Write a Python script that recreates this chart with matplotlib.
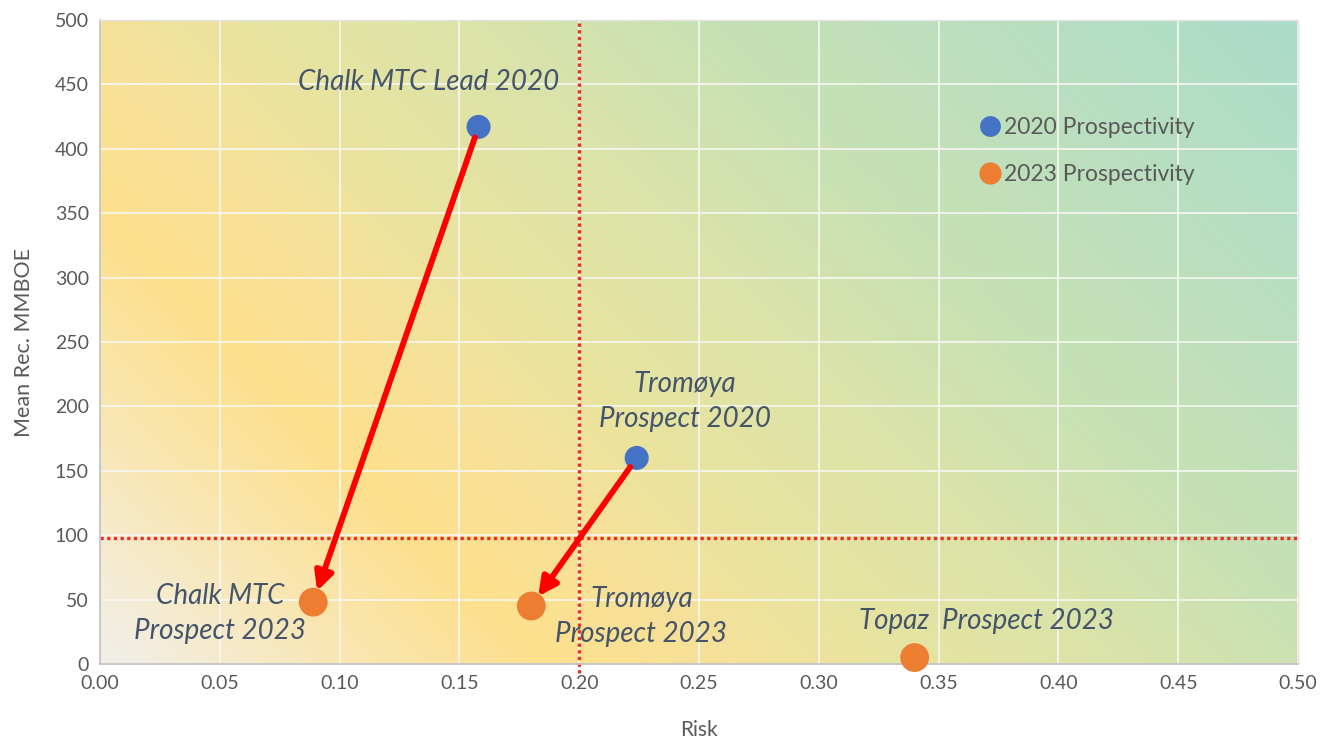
import numpy as np
import matplotlib
matplotlib.use("Agg")
import matplotlib.pyplot as plt
from matplotlib.colors import LinearSegmentedColormap
from matplotlib.lines import Line2D

plt.rcParams['font.family'] = ['Lato', 'DejaVu Sans']

# Prospect data: risk (x) and mean recoverable volume in MMBOE (y)
names_2020 = ["Chalk MTC Lead 2020", "Tromøya\nProspect 2020"]
risk_2020 = [0.158, 0.224]
mmboe_2020 = [417, 160]

names_2023 = ["Chalk MTC\nProspect 2023", "Tromøya\nProspect 2023", "Topaz  Prospect 2023"]
risk_2023 = [0.089, 0.180, 0.340]
mmboe_2023 = [48, 45, 5]

# Label anchor points (data coords) for each prospect name
label_x_2020 = [0.137, 0.244]
label_y_2020 = [452, 204]
label_x_2023 = [0.050, 0.226, 0.370]
label_y_2023 = [39, 37, 33]

# Re-evaluation arrows: index in 2020 list -> index in 2023 list
moves = [(0, 0), (1, 1)]

# Cut-off lines
risk_cutoff = 0.20
volume_cutoff = 98

x_ticks = [0.00, 0.05, 0.10, 0.15, 0.20, 0.25, 0.30, 0.35, 0.40, 0.45, 0.50]
y_ticks = [0, 50, 100, 150, 200, 250, 300, 350, 400, 450, 500]

fig = plt.figure(figsize=(13.22, 7.40), dpi=100)
ax = fig.add_axes([100 / 1322, 1 - 664 / 740, 1198 / 1322, 644 / 740])
ax.set_xlim(0, 0.5)
ax.set_ylim(0, 500)

# Diagonal background gradient: pale beige -> yellow -> green -> teal
W, H = 1198, 644
u = np.linspace(0, 1, 600)[None, :]
v = np.linspace(0, 1, 330)[:, None]
t = (u * W + v * H) / (W + H)
cmap = LinearSegmentedColormap.from_list(
    "bg",
    [(0.0, "#F1EFEA"), (0.12, "#F8E7B8"), (0.24, "#FDE08D"), (0.34, "#F6E199"),
     (0.44, "#E6E4A1"), (0.56, "#DAE3AA"), (0.67, "#C8E1B4"), (1.0, "#ACDCCB")])
ax.imshow(cmap(t), extent=(0, 0.5, 0, 500), origin="lower", aspect="auto",
          zorder=0, interpolation="bilinear")

ax.set_axisbelow(True)
ax.grid(True, color="#F7F7F2", lw=1.2)
ax.set_xticks(x_ticks)
ax.set_yticks(y_ticks)
ax.set_xticklabels([f"{v:.2f}" for v in x_ticks])
ax.set_yticklabels([str(v) for v in y_ticks])
ax.tick_params(length=0, labelsize=14, colors="#595959", pad=8)

for s in ["left", "bottom"]:
    ax.spines[s].set_color("#BFBFBF")
    ax.spines[s].set_linewidth(1.2)
for s in ["top", "right"]:
    ax.spines[s].set_color("#E4E4E4")
    ax.spines[s].set_linewidth(1.0)

ax.set_xlabel("Risk", fontsize=15, color="#595959", labelpad=20)
ax.set_ylabel("Mean Rec. MMBOE", fontsize=15.5, color="#595959", labelpad=15)

# Cut-off lines
red_dot = "#E8302A"
ax.axvline(risk_cutoff, ymin=-0.014, ymax=1, color=red_dot, lw=2.4,
           linestyle=(0, (1, 1)), zorder=2, clip_on=False)
ax.axhline(volume_cutoff, color=red_dot, lw=2.4, linestyle=(0, (1, 1)), zorder=2)

# Markers
blue = "#4472C4"
orange = "#ED7D31"
ax.scatter(risk_2020, mmboe_2020, s=300, color=blue, edgecolors="none", zorder=4)
ax.scatter(risk_2023, mmboe_2023, s=430, color=orange, edgecolors="none", zorder=4,
           clip_on=False)

# Arrows from 2020 to 2023 assessment
for i, j in moves:
    ax.annotate("", xy=(risk_2023[j], mmboe_2023[j]),
                xytext=(risk_2020[i], mmboe_2020[i]),
                arrowprops=dict(arrowstyle="-|>,head_length=1.1,head_width=0.55",
                                color="#FF0000", lw=4.2,
                                shrinkA=8, shrinkB=8.5),
                zorder=5)

# Prospect names
lbl_style = dict(fontsize=20, style="italic", color="#44546A",
                 ha="center", va="center", linespacing=1.45, zorder=6)
for n, lx, ly in zip(names_2020, label_x_2020, label_y_2020):
    ax.text(lx, ly, n, **lbl_style)
for n, lx, ly in zip(names_2023, label_x_2023, label_y_2023):
    ax.text(lx, ly, n, **lbl_style)

# Legend
handles = [Line2D([], [], marker="o", ls="none", color=blue, markersize=15,
                  markeredgewidth=0, label="2020 Prospectivity"),
           Line2D([], [], marker="o", ls="none", color=orange, markersize=16,
                  markeredgewidth=0, label="2023 Prospectivity")]
ax.legend(handles=handles, loc="upper left", bbox_to_anchor=(0.725, 0.863),
          frameon=False, fontsize=16.5, labelcolor="#595959",
          handletextpad=0.05, handlelength=1.1, labelspacing=1.1,
          borderaxespad=0)

fig.savefig("out.png", dpi=100)
